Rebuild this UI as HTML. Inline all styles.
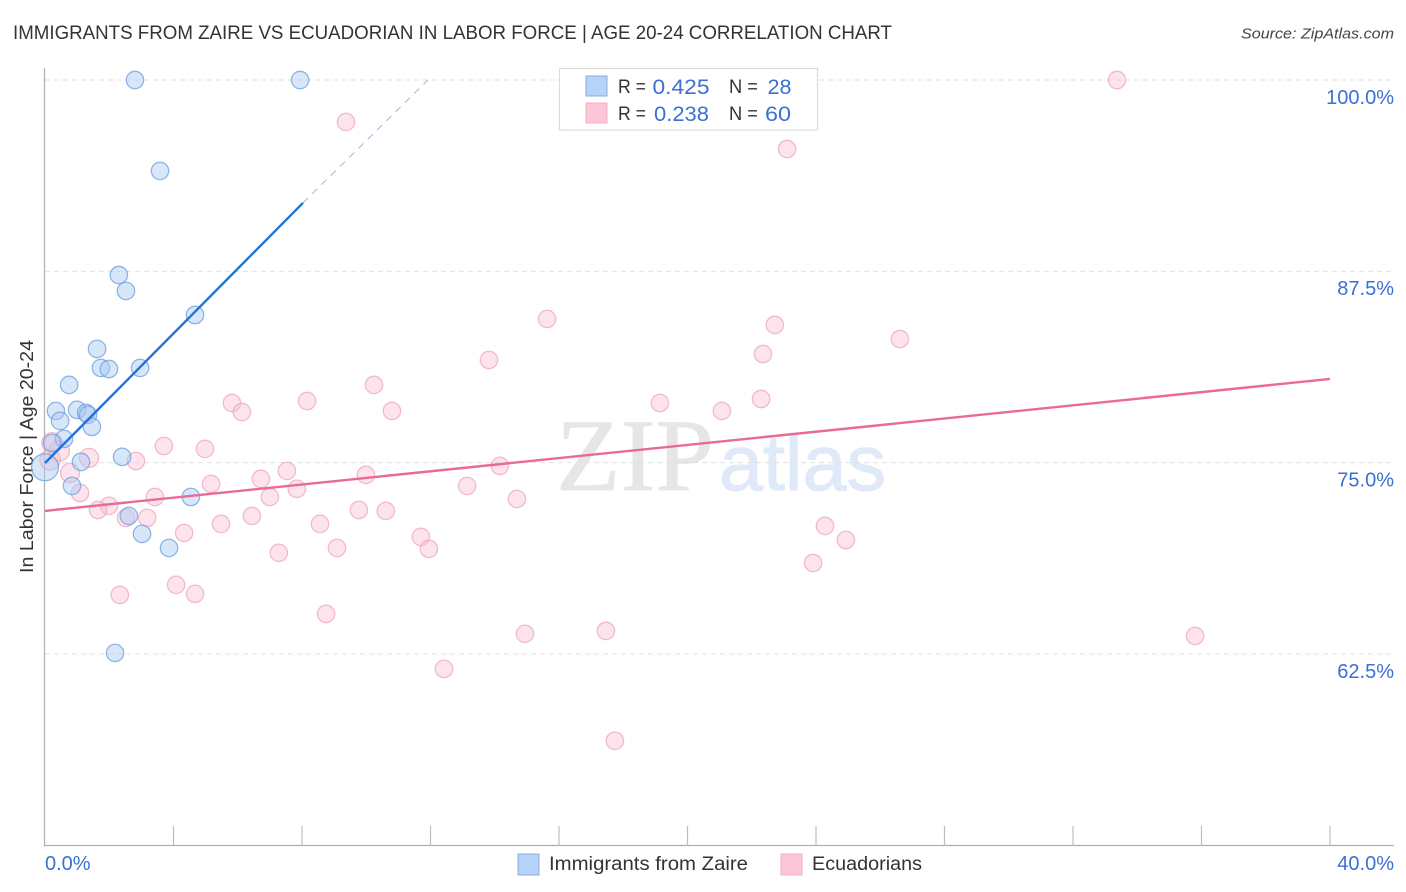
<!DOCTYPE html>
<html lang="en">
<head>
<meta charset="utf-8">
<title>Immigrants from Zaire vs Ecuadorian in Labor Force | Age 20-24 Correlation Chart</title>
<style>
html,body{margin:0;padding:0;background:#fff;width:1406px;height:892px;overflow:hidden}
svg{display:block;font-family:"Liberation Sans",sans-serif}
</style>
</head>
<body>
<svg id="chart" xmlns="http://www.w3.org/2000/svg" width="1406" height="892" viewBox="0 0 1406 892">
  <rect x="0" y="0" width="1406" height="892" fill="#fff"/>
  <text x="13" y="39" font-size="19.5" fill="#333" textLength="879" lengthAdjust="spacingAndGlyphs">IMMIGRANTS FROM ZAIRE VS ECUADORIAN IN LABOR FORCE | AGE 20-24 CORRELATION CHART</text>
  <text x="1241" y="38.5" font-size="15" font-style="italic" fill="#444" textLength="153" lengthAdjust="spacingAndGlyphs">Source: ZipAtlas.com</text>
  <g>
    <text x="556" y="490" font-family="'Liberation Serif',serif" font-size="103" fill="#e6e6e6" stroke="#e6e6e6" stroke-width="0.8" textLength="158" lengthAdjust="spacingAndGlyphs">ZIP</text>
    <text x="719" y="490" font-size="79" fill="#dfe9f8" stroke="#dfe9f8" stroke-width="1" textLength="167" lengthAdjust="spacingAndGlyphs">atlas</text>
  </g>
  <g id="grid"></g>
  <g id="axes">
    <line x1="44.5" y1="68" x2="44.5" y2="846.5" stroke="#b0b0b0" stroke-width="1.2"/>
    <line x1="44" y1="845.5" x2="1394" y2="845.5" stroke="#b0b0b0" stroke-width="1.2"/>
  </g>
  <g id="ticks"></g>
  <g id="ylabels"></g>
  <g id="xlabels"></g>
  <text transform="translate(33,456.5) rotate(-90)" text-anchor="middle" font-size="18.5" fill="#333" textLength="233" lengthAdjust="spacingAndGlyphs">In Labor Force | Age 20-24</text>
  <g id="pink-points"></g>
  <g id="blue-points"></g>
  <g id="trends"></g>
  <g>
    <rect x="559.5" y="68.5" width="258" height="61.5" fill="#fff" stroke="#dcdcdc" stroke-width="1.2"/>
    <rect x="586" y="76" width="21" height="20" fill="#b7d2f8" stroke="#85ade6"/>
    <rect x="586" y="103" width="21" height="20" fill="#fcc6d9" stroke="#f6adc5"/>
    <text x="618" y="93" font-size="19" fill="#333" textLength="28" lengthAdjust="spacingAndGlyphs">R =</text>
    <text x="652.5" y="94" font-size="21" fill="#3b70d4" textLength="57" lengthAdjust="spacingAndGlyphs">0.425</text>
    <text x="729" y="93" font-size="19" fill="#333" textLength="29" lengthAdjust="spacingAndGlyphs">N =</text>
    <text x="767.5" y="94" font-size="21" fill="#3b70d4" textLength="24" lengthAdjust="spacingAndGlyphs">28</text>
    <text x="618" y="120" font-size="19" fill="#333" textLength="28" lengthAdjust="spacingAndGlyphs">R =</text>
    <text x="654" y="121" font-size="21" fill="#3b70d4" textLength="55" lengthAdjust="spacingAndGlyphs">0.238</text>
    <text x="729" y="120" font-size="19" fill="#333" textLength="29" lengthAdjust="spacingAndGlyphs">N =</text>
    <text x="765" y="121" font-size="21" fill="#3b70d4" textLength="26" lengthAdjust="spacingAndGlyphs">60</text>
  </g>
  <g>
    <rect x="518" y="854" width="21" height="21" fill="#b7d2f8" stroke="#85ade6"/>
    <text x="549" y="870" font-size="19" fill="#333" textLength="199" lengthAdjust="spacingAndGlyphs">Immigrants from Zaire</text>
    <rect x="781" y="854" width="21" height="21" fill="#fcc6d9" stroke="#f6adc5"/>
    <text x="812" y="870" font-size="19" fill="#333" textLength="110" lengthAdjust="spacingAndGlyphs">Ecuadorians</text>
  </g>
</svg>
<script>
var gridValues = [100, 87.5, 75, 62.5];
var yTickLabels = ["100.0%", "87.5%", "75.0%", "62.5%"];
var xTickValues = [0, 4, 8, 12, 16, 20, 24, 28, 32, 36, 40];
var xEndLabels = ["0.0%", "40.0%"];

var blueX = [2.80,7.94,3.58,2.30,2.52,4.67,1.62,1.74,1.99,2.96,0.75,0.34,1.00,1.28,1.34,0.47,1.46,0.59,0.22,1.12,2.40,0,0.84,4.54,2.61,3.02,3.86,2.18];
var blueY = [100,100,94.06,87.26,86.22,84.65,82.43,81.19,81.12,81.19,80.08,78.38,78.45,78.25,78.12,77.73,77.34,76.55,76.29,75.05,75.38,74.70,73.48,72.76,71.52,70.35,69.43,62.57];
var blueWeight = [1,1,1,1,1,1,1,1,1,1,1,1,1,1,1,1,1,1,1,1,1,2.4,1,1,1,1,1,1];

var pinkX = [33.37,9.37,23.10,15.63,22.72,26.61,22.35,13.82,10.24,22.29,5.82,8.16,19.14,6.13,10.80,21.07,3.70,4.98,2.83,1.37,0.44,0.22,0.16,0.78,1.09,14.16,9.99,7.53,6.72,5.17,7.84,13.14,3.42,7.00,14.69,1.99,1.65,9.77,10.61,2.52,3.18,6.44,5.48,8.56,24.28,4.33,11.70,24.93,11.95,9.09,7.28,23.91,4.08,2.33,4.67,8.75,14.94,17.46,35.80,12.42,17.74];
var pinkY = [100,97.26,95.49,84.39,84.0,83.08,82.10,81.71,80.08,79.16,78.90,79.03,78.90,78.31,78.38,78.38,76.09,75.90,75.11,75.31,75.77,76.29,75.18,74.33,73.02,74.79,74.20,74.46,73.94,73.61,73.29,73.48,72.76,72.76,72.63,72.18,71.91,71.91,71.85,71.39,71.39,71.52,71.0,71.0,70.87,70.41,70.15,69.95,69.37,69.43,69.11,68.45,67.02,66.36,66.43,65.12,63.82,64.01,63.68,61.53,56.83];
var pinkWeight = [1,1,1,1,1,1,1,1,1,1,1,1,1,1,1,1,1,1,1,1.2,1.4,1.4,1.4,1.2,1,1,1,1,1,1,1,1,1,1,1,1,1,1,1,1,1,1,1,1,1,1,1,1,1,1,1,1,1,1,1,1,1,1,1,1,1];

var blueTrendX = [0, 8.03];
var blueTrendY = [74.98, 91.97];
var blueDashX = [8.03, 11.92];
var blueDashY = [91.97, 100];
var pinkTrendX = [0, 40];
var pinkTrendY = [71.85, 80.47];

var NS = "http://www.w3.org/2000/svg";
function xScale(v) { return 45 + v * (1330 - 45) / 40; }
function yScale(v) { return 80 + (100 - v) * (654 - 80) / 37.5; }
function radius(w) { return 8.7 * Math.sqrt(w); }
function make(tag, parentId) {
  var el = document.createElementNS(NS, tag);
  document.getElementById(parentId).appendChild(el);
  return el;
}
function attrs(el, map) {
  for (var k in map) { el.setAttribute(k, map[k]); }
}

gridValues.forEach(function (v, i) {
  var line = make("line", "grid");
  
  
  attrs(line, { x1: 45, x2: 1394, y1: yScale(v), y2: yScale(v), stroke: "#e0e0e0", "stroke-width": 1, "stroke-dasharray": "5 4" });
  var label = make("text", "ylabels");
  
  
  attrs(label, { x: 1394, y: yScale(v) + 23.8, "text-anchor": "end", "font-size": 20, fill: "#3b70d4" });
  label.textContent = yTickLabels[i];
});

xTickValues.forEach(function (v, i) {
  if (i === 0) { return; }
  var tick = make("line", "ticks");
  
  
  attrs(tick, { x1: xScale(v), x2: xScale(v), y1: 826, y2: 846, stroke: "#bdbdbd", "stroke-width": 1.2 });
});

xEndLabels.forEach(function (t, i) {
  var label = make("text", "xlabels");
  
  
  attrs(label, { x: i === 0 ? 45 : 1394, y: 870, "text-anchor": i === 0 ? "start" : "end", "font-size": 20, fill: "#3b70d4" });
  label.textContent = t;
});

pinkX.forEach(function (v, i) {
  var c = make("circle", "pink-points");
  
  
  attrs(c, { cx: xScale(v), cy: yScale(pinkY[i]), r: radius(pinkWeight[i]), fill: "#f9bdd1", "fill-opacity": 0.42, stroke: "#eea3bc", "stroke-opacity": 0.72, "stroke-width": 1.3 });
});

blueX.forEach(function (v, i) {
  var c = make("circle", "blue-points");
  
  
  attrs(c, { cx: xScale(v), cy: yScale(blueY[i]), r: radius(blueWeight[i]), fill: "#a9c9f2", "fill-opacity": 0.46, stroke: "#6c9fdf", "stroke-opacity": 0.75, "stroke-width": 1.3 });
});

var dash = make("line", "trends");


attrs(dash, { x1: xScale(blueDashX[0]), y1: yScale(blueDashY[0]), x2: xScale(blueDashX[1]), y2: yScale(blueDashY[1]), stroke: "#aab4d8", "stroke-width": 1, "stroke-dasharray": "7 6" });

var blueLine = make("line", "trends");


attrs(blueLine, { x1: xScale(blueTrendX[0]), y1: yScale(blueTrendY[0]), x2: xScale(blueTrendX[1]), y2: yScale(blueTrendY[1]), stroke: "#2273d8", "stroke-width": 2.4 });

var pinkLine = make("line", "trends");


attrs(pinkLine, { x1: xScale(pinkTrendX[0]), y1: yScale(pinkTrendY[0]), x2: xScale(pinkTrendX[1]), y2: yScale(pinkTrendY[1]), stroke: "#e96a96", "stroke-width": 2.4 });
</script>
</body>
</html>
